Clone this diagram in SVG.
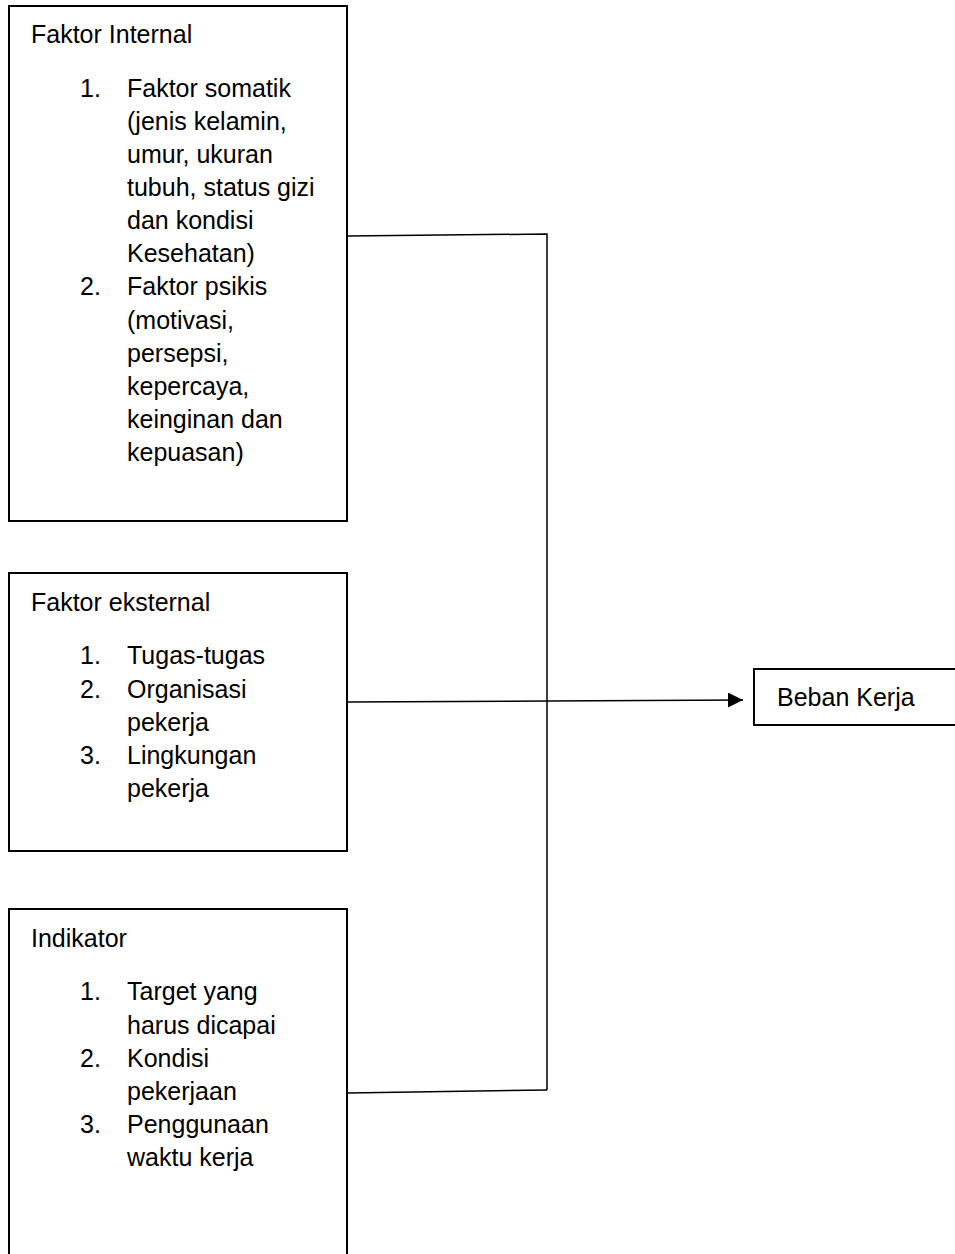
<svg xmlns="http://www.w3.org/2000/svg" width="955" height="1254" viewBox="0 0 955 1254">
<style>
rect{fill:#fff;stroke:#000;stroke-width:2}
text{font-family:"Liberation Sans",Arial,sans-serif;font-size:25px;fill:#000}
.c{fill:none;stroke:#000;stroke-width:1.5}
</style>
<defs>
<marker id="ah" markerWidth="15" markerHeight="15" refX="15" refY="7.5" orient="auto" markerUnits="userSpaceOnUse">
<path d="M0,0 L15,7.5 L0,15 Z" fill="#000"/>
</marker>
</defs>
<g id="connectors">
<path class="c" d="M348,236 L547,234 L547,1090"/>
<path class="c" d="M348,702 L547,701 L743,700" marker-end="url(#ah)"/>
<path class="c" d="M348,1093 L547,1090"/>
</g>
<g id="faktor-internal">
<rect x="9" y="6" width="338" height="515"/>
<text x="31" y="43">Faktor Internal</text>
<text x="80" y="97">1.</text>
<text x="127" y="97">Faktor somatik</text>
<text x="127" y="130">(jenis kelamin,</text>
<text x="127" y="163">umur, ukuran</text>
<text x="127" y="196">tubuh, status gizi</text>
<text x="127" y="229">dan kondisi</text>
<text x="127" y="262">Kesehatan)</text>
<text x="80" y="295">2.</text>
<text x="127" y="295">Faktor psikis</text>
<text x="127" y="329">(motivasi,</text>
<text x="127" y="362">persepsi,</text>
<text x="127" y="395">kepercaya,</text>
<text x="127" y="428">keinginan dan</text>
<text x="127" y="461">kepuasan)</text>
</g>
<g id="faktor-eksternal">
<rect x="9" y="573" width="338" height="278"/>
<text x="31" y="611">Faktor eksternal</text>
<text x="80" y="664">1.</text>
<text x="127" y="664">Tugas-tugas</text>
<text x="80" y="698">2.</text>
<text x="127" y="698">Organisasi</text>
<text x="127" y="731">pekerja</text>
<text x="80" y="764">3.</text>
<text x="127" y="764">Lingkungan</text>
<text x="127" y="797">pekerja</text>
</g>
<g id="indikator">
<rect x="9" y="909" width="338" height="360"/>
<text x="31" y="947">Indikator</text>
<text x="80" y="1000">1.</text>
<text x="127" y="1000">Target yang</text>
<text x="127" y="1034">harus dicapai</text>
<text x="80" y="1067">2.</text>
<text x="127" y="1067">Kondisi</text>
<text x="127" y="1100">pekerjaan</text>
<text x="80" y="1133">3.</text>
<text x="127" y="1133">Penggunaan</text>
<text x="127" y="1166">waktu kerja</text>
</g>
<g id="beban-kerja">
<rect x="754" y="669" width="220" height="56"/>
<text x="777" y="706">Beban Kerja</text>
</g>
</svg>
